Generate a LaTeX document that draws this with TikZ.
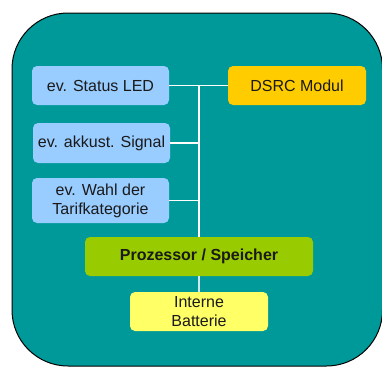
\documentclass[tikz,border=0pt]{standalone}
\usepackage{fontspec}
\setmainfont{Liberation Sans}

\begin{document}
\begin{tikzpicture}[x=1pt, y=-1pt, font=\fontsize{16}{19}\selectfont]
    % Define colours
    \definecolor{panelColour}{HTML}{009999}
    \definecolor{sensorColour}{HTML}{99CCFF}
    \definecolor{dsrcColour}{HTML}{FFCC00}
    \definecolor{cpuColour}{HTML}{99CC00}
    \definecolor{battColour}{HTML}{FFFF66}
    \definecolor{textColour}{HTML}{1A1A1A}
    \definecolor{feedColour}{HTML}{CFE8EC}

    \tikzset{
        unit/.style={rounded corners=5pt, minimum width=137pt, minimum height=39pt,
            inner sep=0pt, align=center, text=textColour},
        bus/.style={draw=white, line width=1.2pt}
    }

    % Fix the bounding box
    \useasboundingbox (0,0) rectangle (382,367);

    % Draw panel
    \begin{scope}
        \clip (0,0) rectangle (382,367);
        \filldraw[fill=panelColour, draw=black, line width=1pt, rounded corners=56pt]
            (12,13) rectangle (382.5,366);
    \end{scope}

    % Draw units
    \node[unit, fill=sensorColour] (led) at (100.5,85.5) {ev. Status LED};
    \node[unit, fill=sensorColour, minimum height=40pt] (signal) at (101.5,143) {ev. akkust. Signal};
    \node[unit, fill=sensorColour, minimum height=45pt] (tarif) at (100.5,200.5) {ev. Wahl der\\Tarifkategorie};
    \node[unit, fill=dsrcColour, minimum width=138pt] (dsrc) at (297,85.5) {DSRC Modul};
    \node[unit, fill=cpuColour, minimum width=228pt, font=\fontsize{16}{19}\selectfont\bfseries] (cpu) at (199,256.5) {Prozessor / Speicher};
    \node[unit, fill=battColour, minimum width=138pt] (batt) at (199,311.5) {Interne\\Batterie};

    % Draw bus
    \coordinate (bus) at (199,85.5);
    \draw[bus] (led) -- (dsrc);
    \draw[bus] (bus) -- (cpu);
    \draw[bus] (signal.east) -- (signal.east -| bus);
    \draw[bus] (tarif.east) -- (tarif.east -| bus);
    \draw[bus, draw=feedColour] (cpu) -- (batt);

\end{tikzpicture}
\end{document}
